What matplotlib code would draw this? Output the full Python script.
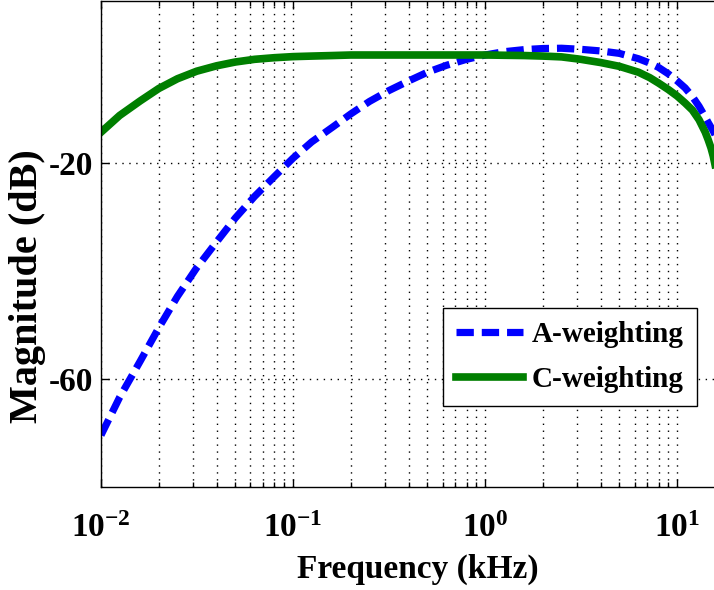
import matplotlib
matplotlib.use("Agg")
import matplotlib.pyplot as plt
from matplotlib.ticker import LogLocator, FixedLocator, NullFormatter

plt.rcParams["font.family"] = ["Liberation Serif", "DejaVu Serif"]
plt.rcParams["font.weight"] = "bold"
plt.rcParams["mathtext.fontset"] = "custom"
plt.rcParams["mathtext.rm"] = "Liberation Serif:bold"
plt.rcParams["mathtext.bf"] = "Liberation Serif:bold"
plt.rcParams["mathtext.it"] = "Liberation Serif:bold:italic"
plt.rcParams["mathtext.default"] = "bf"
plt.rcParams["axes.unicode_minus"] = False

# frequency in kHz, magnitude in dB
freq_khz = [0.01, 0.0125, 0.016, 0.02, 0.025, 0.0315, 0.04, 0.05, 0.063, 0.08,
            0.1, 0.125, 0.16, 0.2, 0.25, 0.315, 0.4, 0.5, 0.63, 0.8,
            1.0, 1.25, 1.6, 2.0, 2.5, 3.15, 4.0, 5.0, 6.3, 7.2,
            8.0, 9.0, 10.0, 11.0, 12.0, 13.0, 14.0, 14.5, 15.0, 15.4,
            15.8, 16.5]
a_weight = [-70.4, -63.4, -56.7, -50.5, -44.7, -39.4, -34.6, -30.2, -26.2, -22.5,
            -19.1, -16.1, -13.4, -10.9, -8.6, -6.6, -4.8, -3.2, -1.9, -0.8,
            0.0, 0.6, 1.0, 1.2, 1.25, 1.05, 0.75, 0.3, -0.7, -1.5,
            -2.3, -3.5, -4.8, -6.1, -7.7, -9.5, -11.5, -12.5, -13.4, -14.1,
            -14.9, -16.5]
c_weight = [-14.3, -11.2, -8.5, -6.2, -4.4, -3.0, -2.0, -1.3, -0.8, -0.5,
            -0.3, -0.2, -0.1, 0.0, 0.0, 0.0, 0.0, 0.0, 0.0, 0.0,
            0.0, -0.05, -0.1, -0.2, -0.35, -0.8, -1.4, -2.1, -3.2, -4.2,
            -5.2, -6.4, -7.6, -8.9, -10.2, -12.0, -14.3, -15.7, -17.2, -18.7,
            -20.6, -24.0]

y_ticks = [-60, -20]

fig = plt.figure(figsize=(7.14, 5.90), dpi=100)
ax = fig.add_axes([101 / 714, 103 / 590, 634 / 714, 486 / 590])

ax.semilogx(freq_khz, a_weight, color="#0000ff", lw=5.2, dashes=(2.4, 1.1),
            dash_capstyle="butt", dash_joinstyle="round", label="A-weighting")
ax.semilogx(freq_khz, c_weight, color="#007f00", lw=5.5,
            solid_joinstyle="round", label="C-weighting")

ax.set_xlim(0.01, 20)
ax.set_ylim(-80, 10)
ax.xaxis.set_major_locator(LogLocator(base=10, numticks=10))
ax.xaxis.set_minor_locator(LogLocator(base=10, subs=range(2, 10), numticks=20))
ax.xaxis.set_minor_formatter(NullFormatter())
ax.yaxis.set_major_locator(FixedLocator(y_ticks))

ax.grid(True, which="both", axis="x", color="black", lw=1.0, linestyle=(0, (1, 4)))
ax.grid(True, which="major", axis="y", color="black", lw=1.0, linestyle=(0, (1, 4)))

ax.tick_params(which="both", direction="in", top=True, right=True, labelsize=24)
ax.tick_params(which="major", length=6, width=1)
ax.tick_params(which="minor", length=3.5, width=1)
ax.tick_params(axis="x", pad=19)
ax.tick_params(axis="y", pad=6)
for s in ax.spines.values():
    s.set_linewidth(1.0)

ax.set_xlabel("Frequency (kHz)", fontsize=24, fontweight="bold", labelpad=7)
ax.set_ylabel("Magnitude (dB)", fontsize=29, fontweight="bold")
ax.yaxis.set_label_coords(-0.087, 0.414)

leg = ax.legend(loc="lower left", bbox_to_anchor=(0.539, 0.167), borderaxespad=0,
                fontsize=21, handlelength=2.3, handletextpad=0.3, fancybox=False,
                framealpha=1, edgecolor="black", borderpad=0.45, labelspacing=0.6)
leg.get_frame().set_linewidth(1.0)

fig.savefig("out.png", dpi=100)
